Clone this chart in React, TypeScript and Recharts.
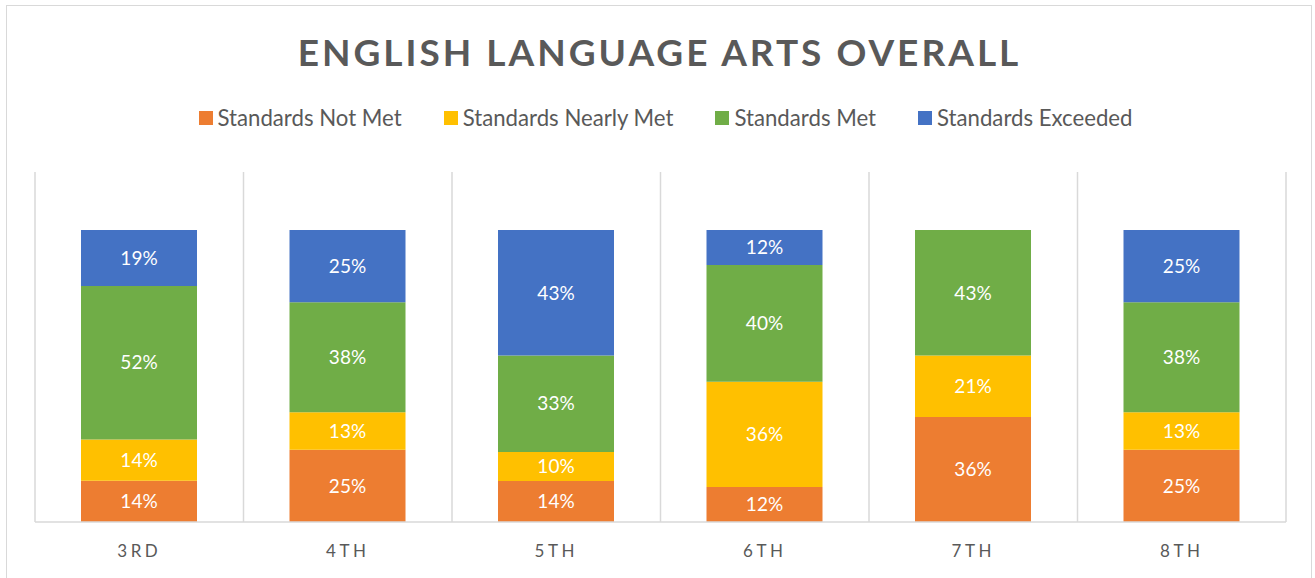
import React from 'react';
import { BarChart, Bar, XAxis, YAxis, CartesianGrid, LabelList } from 'recharts';

const grades = ['3RD', '4TH', '5TH', '6TH', '7TH', '8TH'];
const notMet = [14, 25, 14, 12, 36, 25];
const nearlyMet = [14, 13, 10, 36, 21, 13];
const met = [52, 38, 33, 40, 43, 38];
const exceeded = [19, 25, 43, 12, null, 25];

const seriesNames = ['Standards Not Met', 'Standards Nearly Met', 'Standards Met', 'Standards Exceeded'];
const seriesKeys = ['notMet', 'nearlyMet', 'met', 'exceeded'];
const seriesColors = ['#ED7D31', '#FFC000', '#70AD47', '#4472C4'];

const data = grades.map((g, i) => ({
  grade: g,
  notMet: notMet[i],
  nearlyMet: nearlyMet[i],
  met: met[i],
  exceeded: exceeded[i],
}));

const FONT = 'Lato, "Open Sans", sans-serif';
const GRID_EXTRA = 58; // grid extends above the 100% line (axis max 120%)

const fmt = (v: any) => (v === null || v === undefined || v === 0 ? '' : `${v}%`);

export default function App() {
  return (
    <div style={{ position: 'fixed', left: 0, top: 0, width: 1315, height: 578, overflow: 'hidden', background: '#fff', fontFamily: FONT }}>
      <div style={{ position: 'absolute', left: 6, top: 5, width: 1306, height: 600, border: '1px solid #d9d9d9', boxSizing: 'border-box' }} />
      <div style={{ position: 'absolute', left: 2, width: 1315, top: 28, textAlign: 'center', fontSize: 37, fontWeight: 700, letterSpacing: 3, color: '#595959', lineHeight: '48px' }}>
        ENGLISH LANGUAGE ARTS OVERALL
      </div>
      <div style={{ position: 'absolute', left: 8, width: 1315, top: 104, display: 'flex', justifyContent: 'center', alignItems: 'center', fontSize: 22.2, color: '#595959', lineHeight: '28px' }}>
        {seriesNames.map((n, i) => (
          <div key={n} style={{ display: 'flex', alignItems: 'center', marginLeft: i === 0 ? 0 : 42 }}>
            <div style={{ width: 14, height: 14, background: seriesColors[i], marginRight: 5 }} />
            <span>{n}</span>
          </div>
        ))}
      </div>
      <div style={{ position: 'absolute', left: 0, top: 0 }}>
        <BarChart
          width={1315}
          height={578}
          data={data}
          barSize={116}
          stackOffset="expand"
          margin={{ top: 230, right: 29, left: 35, bottom: 16 }}
        >
          <CartesianGrid
            horizontal={false}
            stroke="#d9d9d9"
            strokeWidth={1.5}
            verticalCoordinatesGenerator={({ offset }: any) =>
              Array.from({ length: grades.length + 1 }, (_, i) => offset.left + (i * offset.width) / grades.length)
            }
            vertical={(p: any) => (
              <line key={p.key} x1={p.x1} x2={p.x2} y1={Math.min(p.y1, p.y2) - GRID_EXTRA} y2={Math.max(p.y1, p.y2)} stroke="#d9d9d9" strokeWidth={1.5} />
            )}
          />
          <YAxis hide type="number" />
          <XAxis
            dataKey="grade"
            height={40}
            tickLine={false}
            axisLine={{ stroke: '#d9d9d9', strokeWidth: 1.5 }}
            tick={{ fill: '#595959', fontSize: 17, fontFamily: FONT, letterSpacing: 3.5 }}
            dy={15}
          />
          {seriesKeys.map((k, i) => (
            <Bar key={k} dataKey={k} stackId="a" fill={seriesColors[i]} isAnimationActive={false}>
              <LabelList dataKey={k} position="center" formatter={fmt} fill="#fff" style={{ fontSize: 19, fontFamily: FONT }} />
            </Bar>
          ))}
        </BarChart>
      </div>
    </div>
  );
}
